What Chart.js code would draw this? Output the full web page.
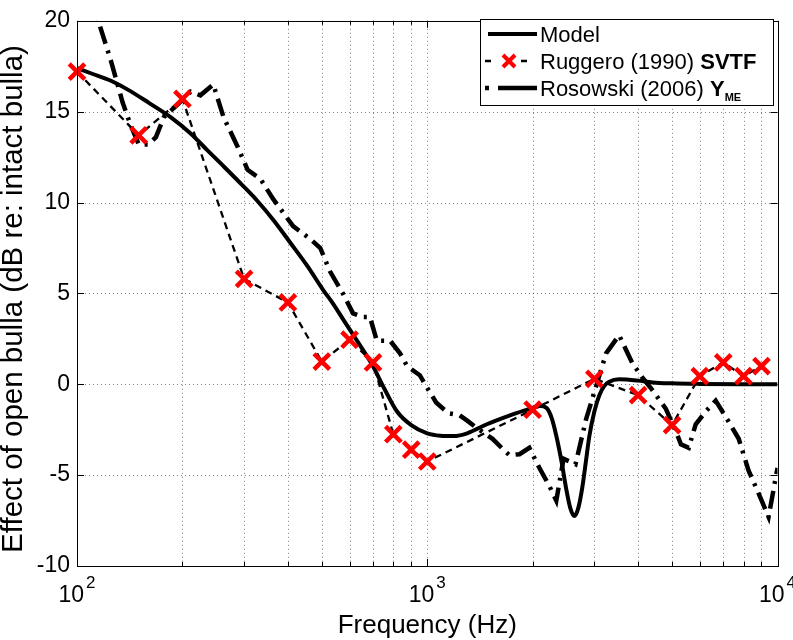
<!DOCTYPE html>
<html>
<head>
<meta charset="utf-8">
<script src="https://cdn.jsdelivr.net/npm/chart.js@4.4.0/dist/chart.umd.min.js"></script>
<style>
  body { margin: 0; background: #fff; }
  #wrap { width: 793px; height: 640px; position: relative; }
</style>
</head>
<body>
<div id="wrap"><canvas id="bullaChart"></canvas></div>
<script>
// ==========================
// Data (frequency in Hz, effect in dB)
// ==========================
const modelFreq = [100, 110, 125, 140, 160, 185, 211, 235, 262, 295,
  327, 365, 406, 455, 504, 540, 574, 630, 695, 757,
  820, 900, 1000, 1090, 1190, 1300, 1480, 1700, 1960, 2100,
  2190, 2270, 2340, 2420, 2490, 2560, 2630, 2700, 2770, 2840,
  2900, 3000, 3100, 3200, 3300, 3530, 4000, 4400, 5000, 6000,
  8000, 10000];
const modelDb = [17.4, 17.1, 16.7, 16.2, 15.5, 14.7, 13.8, 12.9, 12.0, 11.0,
  10.1, 9.0, 7.8, 6.5, 5.2, 4.4, 3.6, 2.4, 1.1, -0.3,
  -1.5, -2.25, -2.7, -2.83, -2.85, -2.7, -2.2, -1.75, -1.35, -1.2,
  -1.3, -1.9, -2.9, -4.3, -5.7, -6.8, -7.25, -6.8, -5.7, -4.2,
  -2.9, -1.5, -0.6, -0.1, 0.12, 0.27, 0.2, 0.1, 0.05, 0.02,
  0, 0];

const ruggeroFreq = [100, 150, 200, 300, 400, 500, 600, 700, 800, 900, 1000,
  2000, 3000, 4000, 5000, 6000, 7000, 8000, 9000];
const ruggeroDb = [17.2, 13.7, 15.7, 5.8, 4.5, 1.25, 2.45, 1.2, -2.75, -3.6, -4.25,
  -1.4, 0.3, -0.6, -2.25, 0.45, 1.2, 0.45, 1.0];

const rosowskiFreq = [108, 115, 125, 135, 142, 150, 160, 168, 177, 194,
  211, 225, 245, 262, 287, 307, 334, 363, 414, 463,
  495, 528, 574, 614, 654, 686, 718, 783, 836, 876,
  952, 1000, 1060, 1150, 1236, 1300, 1383, 1536, 1650, 1717,
  1834, 1957, 2090, 2232, 2336, 2450, 2650, 2843, 3036, 3240,
  3530, 3843, 4100, 4383, 4800, 5130, 5300, 5580, 5840, 6240,
  6660, 7250, 7750, 8270, 8830, 9430, 10000];
const rosowskiDb = [21.5, 20, 17.8, 15.5, 14.3, 13.2, 13.2, 13.6, 14.7, 15.4,
  16.1, 15.9, 16.5, 14.7, 13.1, 11.8, 11.3, 10.2, 8.7, 8.0,
  7.5, 6.2, 5.0, 3.9, 3.7, 3.7, 2.4, 2.4, 1.7, 1.0,
  0.5, -0.2, -1.0, -1.6, -1.7, -2.0, -2.4, -3.0, -3.6, -3.9,
  -3.85, -3.5, -4.6, -5.6, -6.4, -4.1, -4.4, -1.9, -0.1, 1.7,
  2.7, 1.2, 0.4, -0.3, -1.35, -2.6, -3.3, -3.5, -2.2, -1.5,
  -0.9, -2.05, -3.0, -4.75, -6.0, -7.3, -4.6];

const yTicks = [-10, -5, 0, 5, 10, 15, 20];
const xDecades = [100, 1000, 10000];
const xGrid = [100, 200, 300, 400, 500, 600, 700, 800, 900,
  1000, 2000, 3000, 4000, 5000, 6000, 7000, 8000, 9000, 10000];

const FONT = '"Liberation Sans", Arial, Helvetica, sans-serif';

function toPoints(xs, ys) {
  return xs.map((x, i) => ({ x: x, y: ys[i] }));
}

// ==========================
// MATLAB-style frame, grid, labels and legend
// ==========================
const matlabAxes = {
  id: 'matlabAxes',
  beforeDatasetsDraw(chart) {
    const { ctx, chartArea: a, scales: { x, y } } = chart;
    ctx.save();
    ctx.strokeStyle = 'rgba(0,0,0,0.5)';
    ctx.lineWidth = 1;
    ctx.setLineDash([1, 3]);
    xGrid.slice(1, -1).forEach(v => {
      const px = Math.round(x.getPixelForValue(v)) + 0.5;
      ctx.beginPath(); ctx.moveTo(px, a.top); ctx.lineTo(px, a.bottom); ctx.stroke();
    });
    yTicks.slice(1, -1).forEach(v => {
      const py = Math.round(y.getPixelForValue(v)) + 0.5;
      ctx.beginPath(); ctx.moveTo(a.left, py); ctx.lineTo(a.right, py); ctx.stroke();
    });
    ctx.restore();
  },
  afterDatasetsDraw(chart) {
    const { ctx, chartArea: a, scales: { x, y } } = chart;
    ctx.save();
    ctx.setLineDash([]);
    ctx.strokeStyle = '#000';
    ctx.lineWidth = 1;
    // frame
    ctx.strokeRect(Math.round(a.left) + 0.5, Math.round(a.top) + 0.5,
      Math.round(a.right - a.left), Math.round(a.bottom - a.top));
    // inner ticks
    ctx.beginPath();
    xGrid.forEach(v => {
      const px = Math.round(x.getPixelForValue(v)) + 0.5;
      const len = xDecades.includes(v) ? 7 : 4;
      ctx.moveTo(px, a.bottom); ctx.lineTo(px, a.bottom - len);
      ctx.moveTo(px, a.top); ctx.lineTo(px, a.top + len);
    });
    yTicks.forEach(v => {
      const py = Math.round(y.getPixelForValue(v)) + 0.5;
      ctx.moveTo(a.left, py); ctx.lineTo(a.left + 7, py);
      ctx.moveTo(a.right, py); ctx.lineTo(a.right - 7, py);
    });
    ctx.stroke();

    // x tick labels 10^n
    ctx.fillStyle = '#000';
    ctx.textBaseline = 'alphabetic';
    ctx.textAlign = 'left';
    xDecades.forEach(v => {
      const px = x.getPixelForValue(v);
      const exp = String(Math.round(Math.log10(v)));
      ctx.font = '23px ' + FONT;
      const wb = ctx.measureText('10').width;
      ctx.font = '17px ' + FONT;
      const we = ctx.measureText(exp).width;
      const start = px - (wb + we + 2) / 2;
      ctx.font = '23px ' + FONT;
      ctx.fillText('10', start, 602);
      ctx.font = '17px ' + FONT;
      ctx.fillText(exp, start + wb + 2, 588);
    });

    // axis titles
    ctx.textAlign = 'center';
    ctx.font = '26px ' + FONT;
    ctx.fillText('Frequency (Hz)', (a.left + a.right) / 2, 633);
    ctx.save();
    ctx.translate(22, 299);
    ctx.rotate(-Math.PI / 2);
    ctx.font = '29.5px ' + FONT;
    ctx.fillText('Effect of open bulla (dB re: intact bulla)', 0, 0);
    ctx.restore();

    // legend
    const bx = 480, by = 19, bw = 293, bh = 86;
    ctx.fillStyle = '#fff';
    ctx.fillRect(bx, by, bw, bh);
    ctx.strokeStyle = '#000';
    ctx.lineWidth = 1;
    ctx.strokeRect(bx + 0.5, by + 0.5, bw, bh);

    ctx.strokeStyle = '#000';
    ctx.lineCap = 'butt';
    // Model sample
    ctx.lineWidth = 4;
    ctx.beginPath(); ctx.moveTo(488, 34); ctx.lineTo(537, 34); ctx.stroke();
    // Ruggero sample
    ctx.lineWidth = 2.5;
    ctx.beginPath();
    ctx.moveTo(485, 61); ctx.lineTo(491, 61);
    ctx.moveTo(521, 61); ctx.lineTo(527, 61);
    ctx.stroke();
    ctx.strokeStyle = '#ff0000';
    ctx.lineWidth = 4;
    ctx.beginPath();
    ctx.moveTo(503, 55); ctx.lineTo(515, 67);
    ctx.moveTo(515, 55); ctx.lineTo(503, 67);
    ctx.stroke();
    // Rosowski sample
    ctx.strokeStyle = '#000';
    ctx.lineWidth = 4.5;
    ctx.beginPath();
    ctx.moveTo(485, 88); ctx.lineTo(489, 88);
    ctx.moveTo(498, 88); ctx.lineTo(537, 88);
    ctx.stroke();

    ctx.fillStyle = '#000';
    ctx.textAlign = 'left';
    const tx = 540;
    ctx.font = '22px ' + FONT;
    ctx.fillText('Model', tx, 42);
    let w = ctx.measureText('Ruggero (1990) ').width;
    ctx.fillText('Ruggero (1990) ', tx, 69);
    ctx.font = 'bold 22px ' + FONT;
    ctx.fillText('SVTF', tx + w, 69);
    ctx.font = '22px ' + FONT;
    w = ctx.measureText('Rosowski (2006) ').width;
    ctx.fillText('Rosowski (2006) ', tx, 96);
    ctx.font = 'bold 22px ' + FONT;
    const wy = ctx.measureText('Y').width;
    ctx.fillText('Y', tx + w, 96);
    ctx.font = 'bold 11px ' + FONT;
    ctx.fillText('ME', tx + w + wy, 101);
    ctx.restore();
  }
};

// ==========================
// Chart
// ==========================
new Chart(document.getElementById('bullaChart').getContext('2d'), {
  type: 'line',
  data: {
    datasets: [
      {
        label: 'Model',
        data: toPoints(modelFreq, modelDb),
        borderColor: '#000',
        borderWidth: 4,
        pointRadius: 0,
        cubicInterpolationMode: 'monotone',
        order: 1
      },
      {
        label: 'Ruggero (1990) SVTF',
        data: toPoints(ruggeroFreq, ruggeroDb),
        borderColor: '#000',
        borderWidth: 2.3,
        borderDash: [7, 5],
        tension: 0,
        pointStyle: 'crossRot',
        pointRadius: 11,
        pointBorderWidth: 4.5,
        pointBorderColor: '#ff0000',
        pointBackgroundColor: '#ff0000',
        clip: false,
        order: 0
      },
      {
        label: 'Rosowski (2006) YME',
        data: toPoints(rosowskiFreq, rosowskiDb),
        borderColor: '#000',
        borderWidth: 4.5,
        borderDash: [18, 7, 3, 7],
        borderJoinStyle: 'miter',
        tension: 0,
        pointRadius: 0,
        order: 2
      }
    ]
  },
  options: {
    responsive: true,
    maintainAspectRatio: false,
    animation: false,
    layout: { padding: { top: 12, right: 14, bottom: 0, left: 0 } },
    plugins: {
      legend: { display: false },
      tooltip: { enabled: false }
    },
    scales: {
      x: {
        type: 'logarithmic',
        min: 100,
        max: 10000,
        grid: { display: false, drawTicks: false },
        border: { display: false },
        ticks: { display: false },
        afterFit: s => { s.height = 74; }
      },
      y: {
        min: -10,
        max: 20,
        grid: { display: false, drawTicks: false },
        border: { display: false },
        afterBuildTicks: s => { s.ticks = yTicks.map(v => ({ value: v })); },
        ticks: {
          color: '#000',
          padding: 7,
          font: { family: FONT, size: 23 }
        },
        afterFit: s => { s.width = 77; }
      }
    }
  },
  plugins: [matlabAxes]
});
</script>
</body>
</html>
